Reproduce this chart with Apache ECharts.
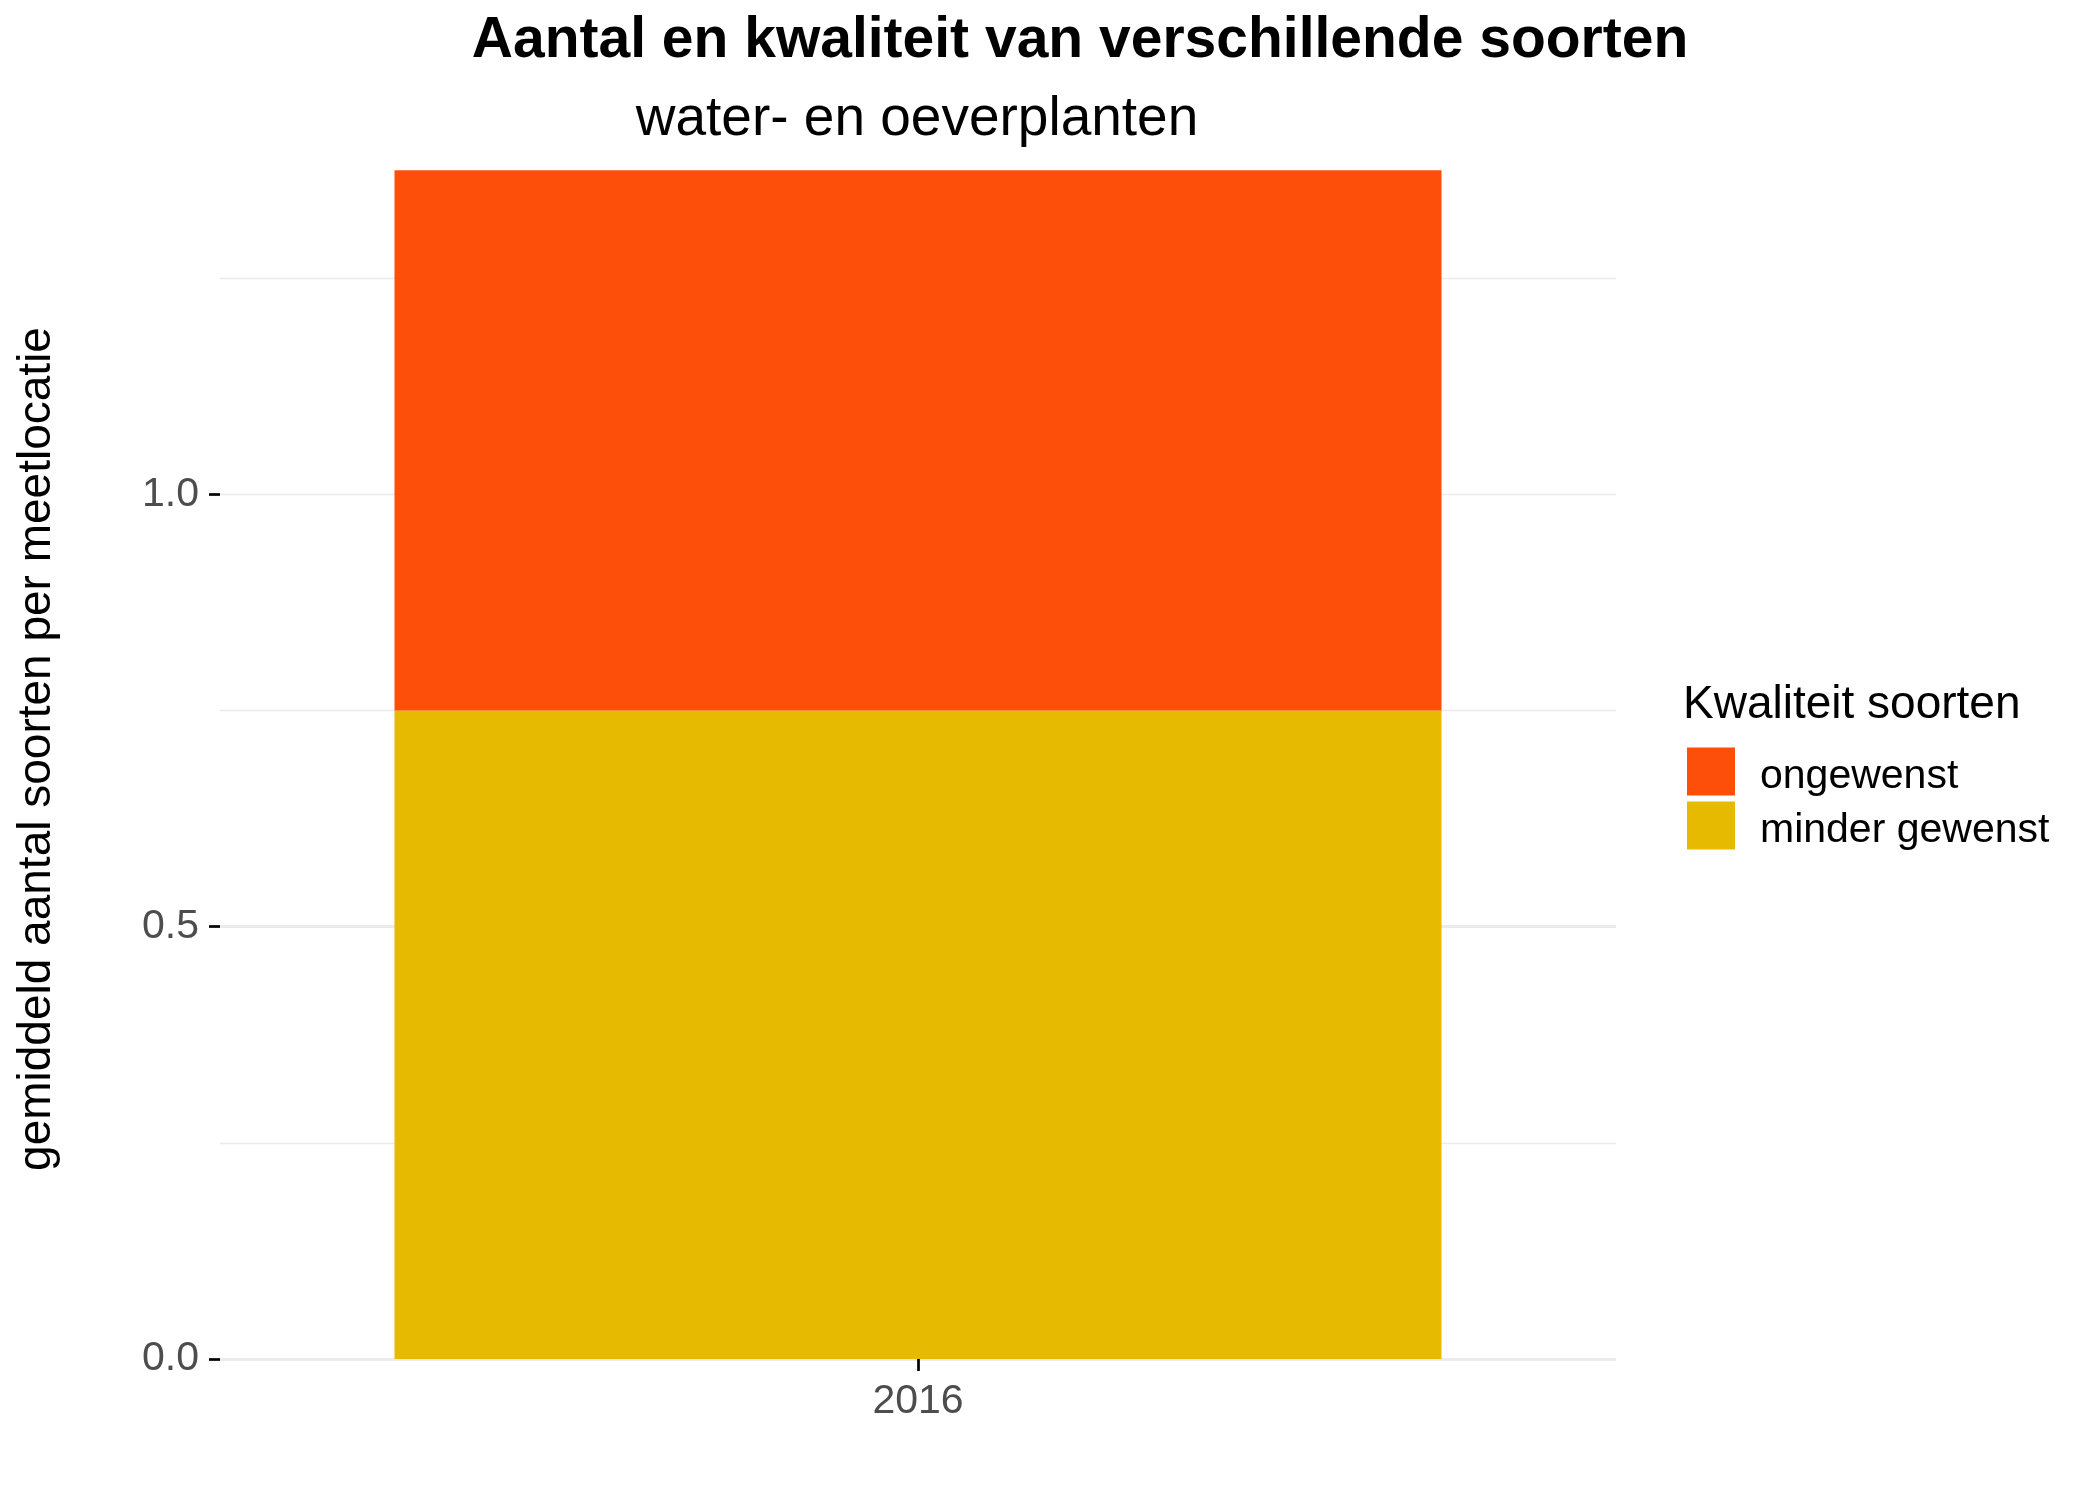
<!DOCTYPE html>
<html>
<head>
<meta charset="utf-8">
<script src="https://cdn.jsdelivr.net/npm/echarts@6/dist/echarts.min.js"></script>
<style>
html,body{margin:0;padding:0;background:#fff;}
#chart{width:2100px;height:1500px;}
</style>
</head>
<body>
<div id="chart"></div>
<script>
const categories = ['2016'];
const minderGewenst = [0.75];
const ongewenst = [0.625];
const yTickValues = [0, 0.5, 1.0];
const legendNames = ['ongewenst', 'minder gewenst'];
const titleText = 'Aantal en kwaliteit van verschillende soorten';
const subtitleText = 'water- en oeverplanten';
const yAxisTitle = 'gemiddeld aantal soorten per meetlocatie';
const legendTitle = 'Kwaliteit soorten';

const FONT = "'Liberation Sans', Arial, sans-serif";
const chart = echarts.init(document.getElementById('chart'), null, {renderer: 'canvas'});
const yMax = 1.411;

chart.setOption({
  backgroundColor: '#ffffff',
  animation: false,
  textStyle: {fontFamily: FONT},
  grid: {left: 220, right: 484, top: 139, bottom: 141, containLabel: false},
  graphic: [
    {type: 'text', x: 1080, y: 41, style: {text: titleText, font: "bold 57px 'Liberation Sans', Arial", fill: '#000', textAlign: 'center', textVerticalAlign: 'middle'}},
    {type: 'text', x: 917, y: 120, style: {text: subtitleText, font: "55px 'Liberation Sans', Arial", fill: '#000', textAlign: 'center', textVerticalAlign: 'middle'}},
    {type: 'text', x: 1683, y: 705, style: {text: legendTitle, font: "46px 'Liberation Sans', Arial", fill: '#000', textAlign: 'left', textVerticalAlign: 'middle'}}
  ],
  legend: {
    data: legendNames,
    orient: 'vertical',
    left: 1687,
    top: 746,
    padding: 0,
    itemWidth: 48,
    itemHeight: 48,
    itemGap: 3,
    icon: 'rect',
    formatter: '{t|{name}}',
    textStyle: {
      fontSize: 41, color: '#000', fontFamily: FONT, padding: [0, 0, 0, 20],
      rich: {t: {fontSize: 41, lineHeight: 30, color: '#000', fontFamily: FONT, padding: [10, 0, 0, 0]}}
    }
  },
  xAxis: {
    type: 'category',
    data: categories,
    boundaryGap: true,
    axisLine: {show: false},
    axisTick: {show: true, alignWithLabel: true, length: 12, lineStyle: {color: '#000', width: 2.7}},
    axisLabel: {fontSize: 41, color: '#4d4d4d', margin: 22, fontFamily: FONT},
    splitLine: {show: false}
  },
  yAxis: [
    {
      type: 'value',
      min: 0,
      max: yMax,
      interval: 0.25,
      axisLine: {show: false},
      axisTick: {show: false},
      axisLabel: {show: false},
      splitLine: {show: true, showMaxLine: false, lineStyle: {color: '#ebebeb', width: 1.4}}
    },
    {
      type: 'value',
      min: 0,
      max: yMax,
      interval: 0.5,
      position: 'left',
      name: yAxisTitle,
      nameLocation: 'middle',
      nameGap: 160,
      nameRotate: 90,
      nameTextStyle: {fontSize: 46, color: '#000', fontFamily: FONT},
      axisLine: {show: false},
      axisTick: {show: true, length: 11, customValues: yTickValues, lineStyle: {color: '#000', width: 2.7}},
      axisLabel: {show: true, customValues: yTickValues, fontSize: 41, color: '#4d4d4d', margin: 21, fontFamily: FONT,
        formatter: v => Number(v).toFixed(1)},
      splitLine: {show: true, showMaxLine: false, lineStyle: {color: '#ebebeb', width: 2.8}}
    }
  ],
  series: [
    {
      name: 'minder gewenst',
      type: 'bar',
      stack: 'total',
      data: minderGewenst,
      barWidth: '75%',
      itemStyle: {color: '#E6BA00'},
      z: 3
    },
    {
      name: 'ongewenst',
      type: 'bar',
      stack: 'total',
      data: ongewenst,
      barWidth: '75%',
      itemStyle: {color: '#FD4F0A'},
      z: 3
    }
  ]
});
</script>
</body>
</html>
